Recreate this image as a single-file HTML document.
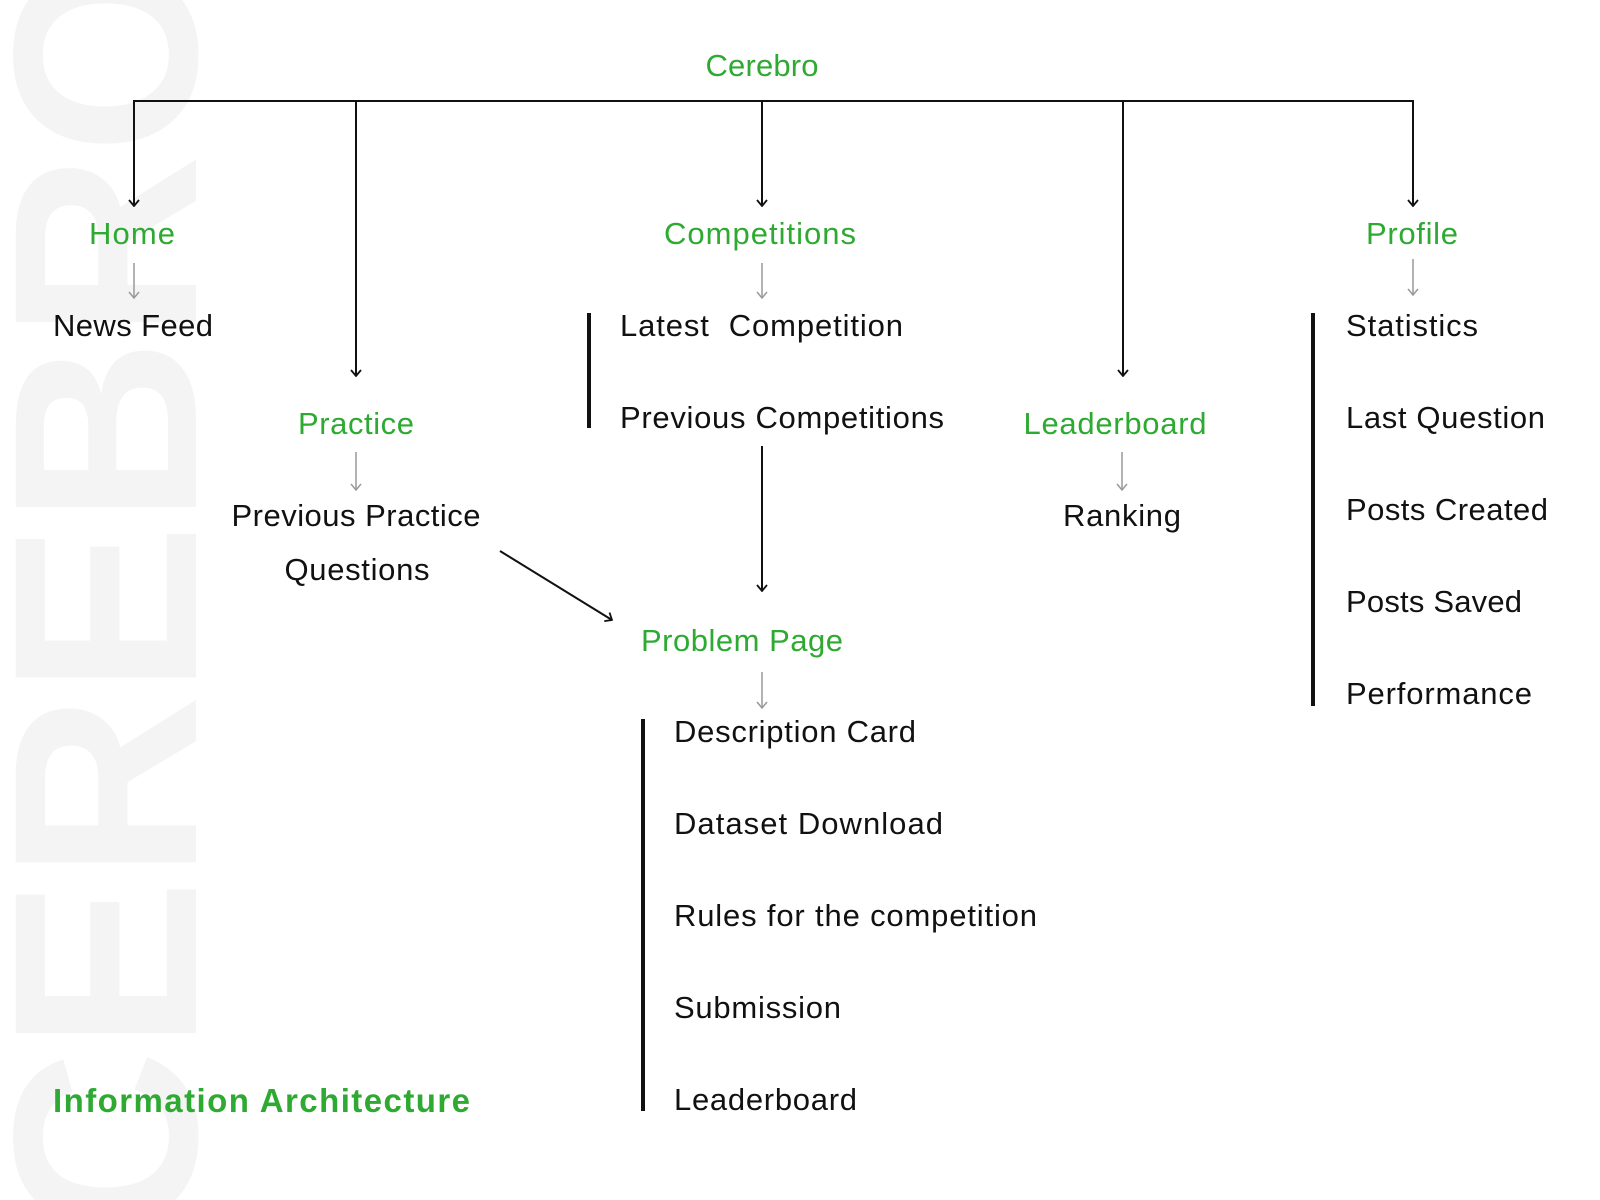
<!DOCTYPE html>
<html><head><meta charset="utf-8"><style>
html,body{margin:0;padding:0;background:#fff;width:1600px;height:1200px;overflow:hidden}
svg{display:block}
text{font-family:"Liberation Sans",sans-serif;font-size:31px}
.g{fill:#2eaa32}.k{fill:#111}
</style></head><body>
<svg width="1600" height="1200" viewBox="0 0 1600 1200" xmlns="http://www.w3.org/2000/svg">
<defs>
<marker id="ab" viewBox="0 0 12 12" refX="6" refY="11" markerWidth="12" markerHeight="12" markerUnits="userSpaceOnUse"><path d="M1 5 L6 11 L11 5" fill="none" stroke="#111" stroke-width="1.8"/></marker>
<marker id="ag" viewBox="0 0 12 12" refX="6" refY="11" markerWidth="12" markerHeight="12" markerUnits="userSpaceOnUse"><path d="M1 5 L6 11 L11 5" fill="none" stroke="#999" stroke-width="1.5"/></marker>
<marker id="ad" viewBox="0 0 12 12" refX="11" refY="6" markerWidth="12" markerHeight="12" markerUnits="userSpaceOnUse" orient="auto"><path d="M5 1 L11 6 L5 11" fill="none" stroke="#111" stroke-width="1.8"/></marker>
</defs>
<text transform="translate(196,1235) rotate(-90)" style="font-size:262px;fill:#f4f4f4;font-weight:bold" textLength="1280" lengthAdjust="spacingAndGlyphs">CEREBRO</text>

<g stroke="#111" stroke-width="2" fill="none">
<path d="M134 101 H1413"/>
<line x1="134" y1="100" x2="134" y2="206" marker-end="url(#ab)"/>
<line x1="356" y1="100" x2="356" y2="376" marker-end="url(#ab)"/>
<line x1="762" y1="100" x2="762" y2="206" marker-end="url(#ab)"/>
<line x1="1123" y1="100" x2="1123" y2="376" marker-end="url(#ab)"/>
<line x1="1413" y1="100" x2="1413" y2="206" marker-end="url(#ab)"/>
<line x1="762" y1="446" x2="762" y2="591" marker-end="url(#ab)"/>
<line x1="500" y1="551" x2="612" y2="620" marker-end="url(#ad)"/>
</g>
<g stroke="#999" stroke-width="1.5">
<line x1="134" y1="263" x2="134" y2="298" marker-end="url(#ag)"/>
<line x1="762" y1="263" x2="762" y2="298" marker-end="url(#ag)"/>
<line x1="1413" y1="259" x2="1413" y2="295" marker-end="url(#ag)"/>
<line x1="356" y1="452" x2="356" y2="490" marker-end="url(#ag)"/>
<line x1="1122" y1="452" x2="1122" y2="490" marker-end="url(#ag)"/>
<line x1="762" y1="672" x2="762" y2="708" marker-end="url(#ag)"/>
</g>
<g fill="#111">
<rect x="587" y="313" width="4" height="115"/>
<rect x="641" y="719" width="4" height="392"/>
<rect x="1311" y="313" width="4" height="393"/>
</g>

<g class="g" text-anchor="middle">
<text x="762" y="76" textLength="113">Cerebro</text>
<text x="132" y="244" textLength="86">Home</text>
<text x="760" y="244" textLength="192">Competitions</text>
<text x="1412" y="244" textLength="92">Profile</text>
<text x="356" y="434" textLength="116">Practice</text>
<text x="1115" y="434" textLength="183">Leaderboard</text>
<text x="742" y="651" textLength="202">Problem Page</text>
</g>
<g class="k" text-anchor="middle">
<text x="133" y="336" textLength="160">News Feed</text>
<text x="356" y="526" textLength="249">Previous Practice</text>
<text x="357" y="580" textLength="145">Questions</text>
<text x="1122" y="526" textLength="118">Ranking</text>
</g>
<g class="k">
<text x="620" y="336" textLength="283" xml:space="preserve">Latest  Competition</text>
<text x="620" y="428" textLength="324">Previous Competitions</text>
<text x="674" y="742" textLength="242">Description Card</text>
<text x="674" y="834" textLength="269">Dataset Download</text>
<text x="674" y="926" textLength="363">Rules for the competition</text>
<text x="674" y="1018" textLength="167">Submission</text>
<text x="674" y="1110" textLength="183">Leaderboard</text>
<text x="1346" y="336" textLength="132">Statistics</text>
<text x="1346" y="428" textLength="199">Last Question</text>
<text x="1346" y="520" textLength="202">Posts Created</text>
<text x="1346" y="612" textLength="176">Posts Saved</text>
<text x="1346" y="704" textLength="186">Performance</text>
</g>
<text x="53" y="1112" class="g" style="font-size:33px;font-weight:bold" textLength="417">Information Architecture</text>
</svg>
</body></html>
